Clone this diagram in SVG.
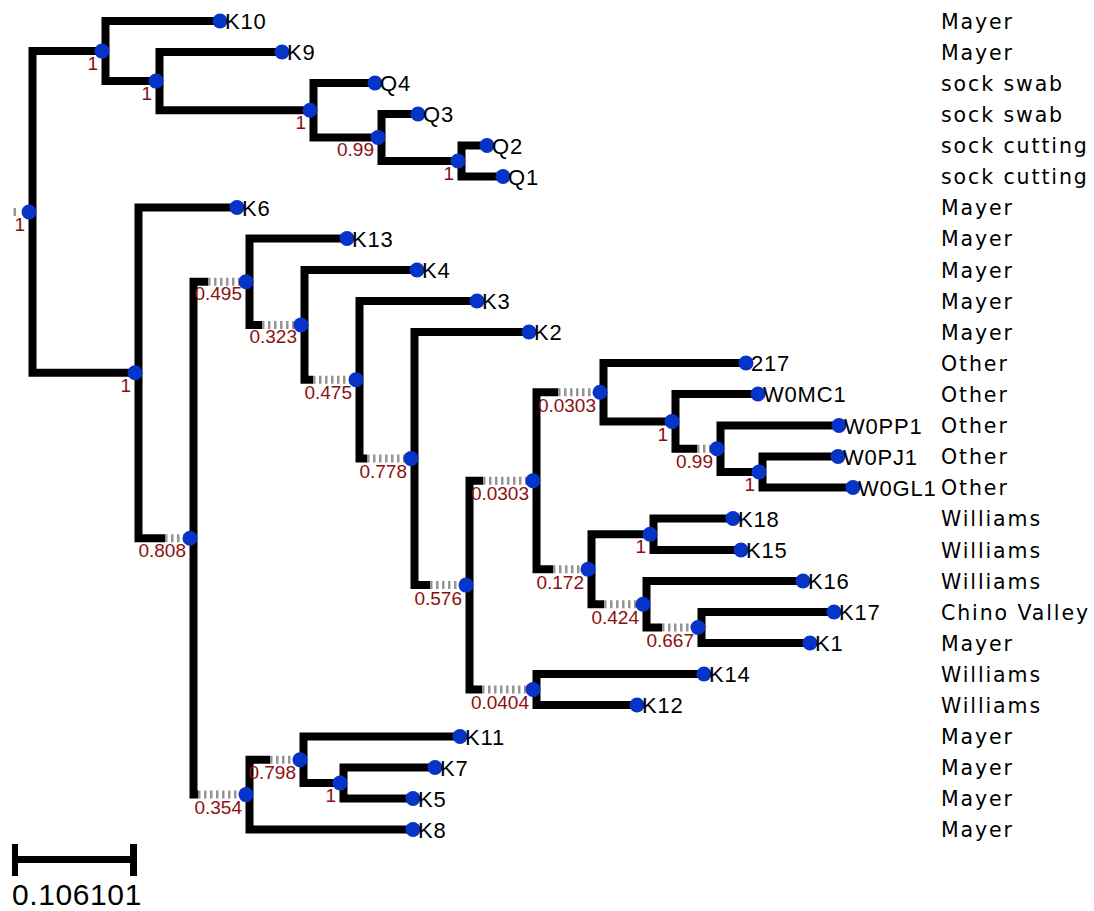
<svg xmlns="http://www.w3.org/2000/svg" width="1094" height="911" viewBox="0 0 1094 911">
  <style>
    .br { fill: none; stroke: #000; stroke-width: 8; stroke-linejoin: miter; stroke-linecap: butt; }
    .stub { stroke: #959595; stroke-width: 8; stroke-dasharray: 2.5 3.5; }
    .dot { fill: #0634c8; }
    .leaf { font-family: "Liberation Sans", Arial, sans-serif; font-size: 22px; letter-spacing: 0.8px; fill: #000; }
    .sup { font-family: "Liberation Sans", Arial, sans-serif; font-size: 19px; fill: #8b1010; text-anchor: end; }
    .grp { font-family: "DejaVu Sans", Verdana, sans-serif; font-size: 20.5px; letter-spacing: 1.9px; fill: #000; }
    .scl { font-family: "Liberation Sans", Arial, sans-serif; font-size: 30px; letter-spacing: 0.6px; fill: #000; }
  </style>
  <rect width="1094" height="911" fill="#fff"/>

  <!-- branches: elbow brackets per internal node, grey dashed stubs for partial lengths -->
  <g id="connectors">
    <path class="br" d="M105.5,51.1 H32.5 V372.8 H138.5"/>
    <path class="br" d="M220,21 H105.5 V81.1 H159.5"/>
    <path class="br" d="M282,52 H159.5 V110.3 H313.5"/>
    <path class="br" d="M375,83 H313.5 V137.5 H381.5"/>
    <path class="br" d="M418,114 H381.5 V161 H461.5"/>
    <path class="br" d="M487,145.5 H461.5 V176.5 H503"/>
    <path class="br" d="M237,207.5 H138.5 V538.2 H165"/>
    <path class="br" d="M208,281.7 H193.5 V794.6 H198"/>
    <path class="br" d="M347,238.5 H249.5 V324.9 H262"/>
    <path class="br" d="M417,270 H304.5 V379.8 H313"/>
    <path class="br" d="M477,301 H359.5 V458.6 H367"/>
    <path class="br" d="M529,332 H414.5 V585.1 H430"/>
    <path class="br" d="M483,480.7 H469.5 V689.5 H482"/>
    <path class="br" d="M558,392.2 H536.5 V569.3 H553"/>
    <path class="br" d="M746,363 H603.5 V421.4 H675.5"/>
    <path class="br" d="M758,394 H675.5 V448.8 H697"/>
    <path class="br" d="M839,425.5 H720.5 V472 H762.5"/>
    <path class="br" d="M838,456.5 H762.5 V487.5 H853"/>
    <path class="br" d="M653.5,534.3 H591.5 V604.3 H604"/>
    <path class="br" d="M733,518.5 H653.5 V550 H741"/>
    <path class="br" d="M803,581 H646.5 V627.5 H662"/>
    <path class="br" d="M834,612 H701.5 V643 H810"/>
    <path class="br" d="M704,674 H536.5 V705 H637"/>
    <path class="br" d="M270,759.8 H249.5 V829.5 H413"/>
    <path class="br" d="M460,736.5 H303.5 V783 H343.5"/>
    <path class="br" d="M435,767.5 H343.5 V798.5 H413"/>

    <line class="stub" x1="13.5" y1="212" x2="16" y2="212"/>
    <line class="stub" x1="165" y1="538.2" x2="184" y2="538.2"/>
    <line class="stub" x1="208" y1="281.7" x2="240" y2="281.7"/>
    <line class="stub" x1="198" y1="794.6" x2="240" y2="794.6"/>
    <line class="stub" x1="262" y1="324.9" x2="295" y2="324.9"/>
    <line class="stub" x1="313" y1="379.8" x2="350" y2="379.8"/>
    <line class="stub" x1="367" y1="458.6" x2="405" y2="458.6"/>
    <line class="stub" x1="430" y1="585.1" x2="460" y2="585.1"/>
    <line class="stub" x1="483" y1="480.7" x2="527" y2="480.7"/>
    <line class="stub" x1="482" y1="689.5" x2="527" y2="689.5"/>
    <line class="stub" x1="558" y1="392.2" x2="594" y2="392.2"/>
    <line class="stub" x1="553" y1="569.3" x2="582" y2="569.3"/>
    <line class="stub" x1="697" y1="448.8" x2="711" y2="448.8"/>
    <line class="stub" x1="604" y1="604.3" x2="637" y2="604.3"/>
    <line class="stub" x1="662" y1="627.5" x2="692" y2="627.5"/>
    <line class="stub" x1="270" y1="759.8" x2="292" y2="759.8"/>
  </g>

  <!-- internal nodes with support values -->
  <g id="n-root"><circle class="dot" cx="29" cy="212" r="7.5"/><text class="sup" x="25" y="231">1</text></g>
  <g id="n-a"><circle class="dot" cx="102" cy="51.1" r="7.5"/><text class="sup" x="98" y="70">1</text></g>
  <g id="n-c"><circle class="dot" cx="156" cy="81.1" r="7.5"/><text class="sup" x="152" y="100">1</text></g>
  <g id="n-d"><circle class="dot" cx="310" cy="110.3" r="7.5"/><text class="sup" x="306" y="129">1</text></g>
  <g id="n-e"><circle class="dot" cx="378" cy="137.5" r="7.5"/><text class="sup" x="374" y="156">0.99</text></g>
  <g id="n-f"><circle class="dot" cx="458" cy="161" r="7.5"/><text class="sup" x="454" y="180">1</text></g>
  <g id="n-b"><circle class="dot" cx="135" cy="372.8" r="7.5"/><text class="sup" x="131" y="392">1</text></g>
  <g id="n-g"><circle class="dot" cx="190" cy="538.2" r="7.5"/><text class="sup" x="186" y="557">0.808</text></g>
  <g id="n-h"><circle class="dot" cx="246" cy="281.7" r="7.5"/><text class="sup" x="242" y="300">0.495</text></g>
  <g id="n-i"><circle class="dot" cx="301" cy="324.9" r="7.5"/><text class="sup" x="297" y="343">0.323</text></g>
  <g id="n-j"><circle class="dot" cx="356" cy="379.8" r="7.5"/><text class="sup" x="352" y="399">0.475</text></g>
  <g id="n-l"><circle class="dot" cx="411" cy="458.6" r="7.5"/><text class="sup" x="407" y="478">0.778</text></g>
  <g id="n-m"><circle class="dot" cx="466" cy="585.1" r="7.5"/><text class="sup" x="462" y="605">0.576</text></g>
  <g id="n-n"><circle class="dot" cx="533" cy="480.7" r="7.5"/><text class="sup" x="529" y="500">0.0303</text></g>
  <g id="n-o"><circle class="dot" cx="600" cy="392.2" r="7.5"/><text class="sup" x="596" y="412">0.0303</text></g>
  <g id="n-p"><circle class="dot" cx="672" cy="421.4" r="7.5"/><text class="sup" x="668" y="441">1</text></g>
  <g id="n-q"><circle class="dot" cx="717" cy="448.8" r="7.5"/><text class="sup" x="713" y="468">0.99</text></g>
  <g id="n-u"><circle class="dot" cx="759" cy="472" r="7.5"/><text class="sup" x="755" y="491">1</text></g>
  <g id="n-t"><circle class="dot" cx="588" cy="569.3" r="7.5"/><text class="sup" x="584" y="589">0.172</text></g>
  <g id="n-v"><circle class="dot" cx="650" cy="534.3" r="7.5"/><text class="sup" x="646" y="553">1</text></g>
  <g id="n-w"><circle class="dot" cx="643" cy="604.3" r="7.5"/><text class="sup" x="639" y="624">0.424</text></g>
  <g id="n-x"><circle class="dot" cx="698" cy="627.5" r="7.5"/><text class="sup" x="694" y="647">0.667</text></g>
  <g id="n-z"><circle class="dot" cx="533" cy="689.5" r="7.5"/><text class="sup" x="529" y="709">0.0404</text></g>
  <g id="n-s"><circle class="dot" cx="246" cy="794.6" r="7.5"/><text class="sup" x="242" y="814">0.354</text></g>
  <g id="n-y"><circle class="dot" cx="300" cy="759.8" r="7.5"/><text class="sup" x="296" y="779">0.798</text></g>
  <g id="n-aa"><circle class="dot" cx="340" cy="783" r="7.5"/><text class="sup" x="336" y="802">1</text></g>

  <!-- leaves: tip label plus location column -->
  <g id="leaf-K10"><circle class="dot" cx="220" cy="21" r="7.5"/><text class="leaf" x="225" y="29">K10</text><text class="grp" x="941" y="28.5">Mayer</text></g>
  <g id="leaf-K9"><circle class="dot" cx="282" cy="52" r="7.5"/><text class="leaf" x="287" y="60">K9</text><text class="grp" x="941" y="59.5">Mayer</text></g>
  <g id="leaf-Q4"><circle class="dot" cx="375" cy="83" r="7.5"/><text class="leaf" x="380" y="91">Q4</text><text class="grp" x="941" y="90.5">sock swab</text></g>
  <g id="leaf-Q3"><circle class="dot" cx="418" cy="114" r="7.5"/><text class="leaf" x="423" y="122">Q3</text><text class="grp" x="941" y="121.5">sock swab</text></g>
  <g id="leaf-Q2"><circle class="dot" cx="487" cy="145.5" r="7.5"/><text class="leaf" x="492" y="153.5">Q2</text><text class="grp" x="941" y="153">sock cutting</text></g>
  <g id="leaf-Q1"><circle class="dot" cx="503" cy="176.5" r="7.5"/><text class="leaf" x="508" y="184.5">Q1</text><text class="grp" x="941" y="184">sock cutting</text></g>
  <g id="leaf-K6"><circle class="dot" cx="237" cy="207.5" r="7.5"/><text class="leaf" x="242" y="215.5">K6</text><text class="grp" x="941" y="215">Mayer</text></g>
  <g id="leaf-K13"><circle class="dot" cx="347" cy="238.5" r="7.5"/><text class="leaf" x="352" y="246.5">K13</text><text class="grp" x="941" y="246">Mayer</text></g>
  <g id="leaf-K4"><circle class="dot" cx="417" cy="270" r="7.5"/><text class="leaf" x="422" y="278">K4</text><text class="grp" x="941" y="277.5">Mayer</text></g>
  <g id="leaf-K3"><circle class="dot" cx="477" cy="301" r="7.5"/><text class="leaf" x="482" y="309">K3</text><text class="grp" x="941" y="308.5">Mayer</text></g>
  <g id="leaf-K2"><circle class="dot" cx="529" cy="332" r="7.5"/><text class="leaf" x="534" y="340">K2</text><text class="grp" x="941" y="339.5">Mayer</text></g>
  <g id="leaf-217"><circle class="dot" cx="746" cy="363" r="7.5"/><text class="leaf" x="751" y="371">217</text><text class="grp" x="941" y="370.5">Other</text></g>
  <g id="leaf-W0MC1"><circle class="dot" cx="758" cy="394" r="7.5"/><text class="leaf" x="763" y="402">W0MC1</text><text class="grp" x="941" y="401.5">Other</text></g>
  <g id="leaf-W0PP1"><circle class="dot" cx="839" cy="425.5" r="7.5"/><text class="leaf" x="844" y="433.5">W0PP1</text><text class="grp" x="941" y="433">Other</text></g>
  <g id="leaf-W0PJ1"><circle class="dot" cx="838" cy="456.5" r="7.5"/><text class="leaf" x="843" y="464.5">W0PJ1</text><text class="grp" x="941" y="464">Other</text></g>
  <g id="leaf-W0GL1"><circle class="dot" cx="853" cy="487.5" r="7.5"/><text class="leaf" x="858" y="495.5">W0GL1</text><text class="grp" x="941" y="495">Other</text></g>
  <g id="leaf-K18"><circle class="dot" cx="733" cy="518.5" r="7.5"/><text class="leaf" x="738" y="526.5">K18</text><text class="grp" x="941" y="526">Williams</text></g>
  <g id="leaf-K15"><circle class="dot" cx="741" cy="550" r="7.5"/><text class="leaf" x="746" y="558">K15</text><text class="grp" x="941" y="557.5">Williams</text></g>
  <g id="leaf-K16"><circle class="dot" cx="803" cy="581" r="7.5"/><text class="leaf" x="808" y="589">K16</text><text class="grp" x="941" y="588.5">Williams</text></g>
  <g id="leaf-K17"><circle class="dot" cx="834" cy="612" r="7.5"/><text class="leaf" x="839" y="620">K17</text><text class="grp" x="941" y="619.5">Chino Valley</text></g>
  <g id="leaf-K1"><circle class="dot" cx="810" cy="643" r="7.5"/><text class="leaf" x="815" y="651">K1</text><text class="grp" x="941" y="650.5">Mayer</text></g>
  <g id="leaf-K14"><circle class="dot" cx="704" cy="674" r="7.5"/><text class="leaf" x="709" y="682">K14</text><text class="grp" x="941" y="681.5">Williams</text></g>
  <g id="leaf-K12"><circle class="dot" cx="637" cy="705" r="7.5"/><text class="leaf" x="642" y="713">K12</text><text class="grp" x="941" y="712.5">Williams</text></g>
  <g id="leaf-K11"><circle class="dot" cx="460" cy="736.5" r="7.5"/><text class="leaf" x="465" y="744.5">K11</text><text class="grp" x="941" y="744">Mayer</text></g>
  <g id="leaf-K7"><circle class="dot" cx="435" cy="767.5" r="7.5"/><text class="leaf" x="440" y="775.5">K7</text><text class="grp" x="941" y="775">Mayer</text></g>
  <g id="leaf-K5"><circle class="dot" cx="413" cy="798.5" r="7.5"/><text class="leaf" x="418" y="806.5">K5</text><text class="grp" x="941" y="806">Mayer</text></g>
  <g id="leaf-K8"><circle class="dot" cx="413" cy="829.5" r="7.5"/><text class="leaf" x="418" y="837.5">K8</text><text class="grp" x="941" y="837">Mayer</text></g>

  <!-- scale bar -->
  <g id="scale">
    <path d="M12,859.5 H137" stroke="#000" stroke-width="7"/>
    <rect x="12" y="844" width="6" height="32" fill="#000"/>
    <rect x="130" y="844" width="7" height="32" fill="#000"/>
    <text class="scl" x="12" y="905">0.106101</text>
  </g>
</svg>
